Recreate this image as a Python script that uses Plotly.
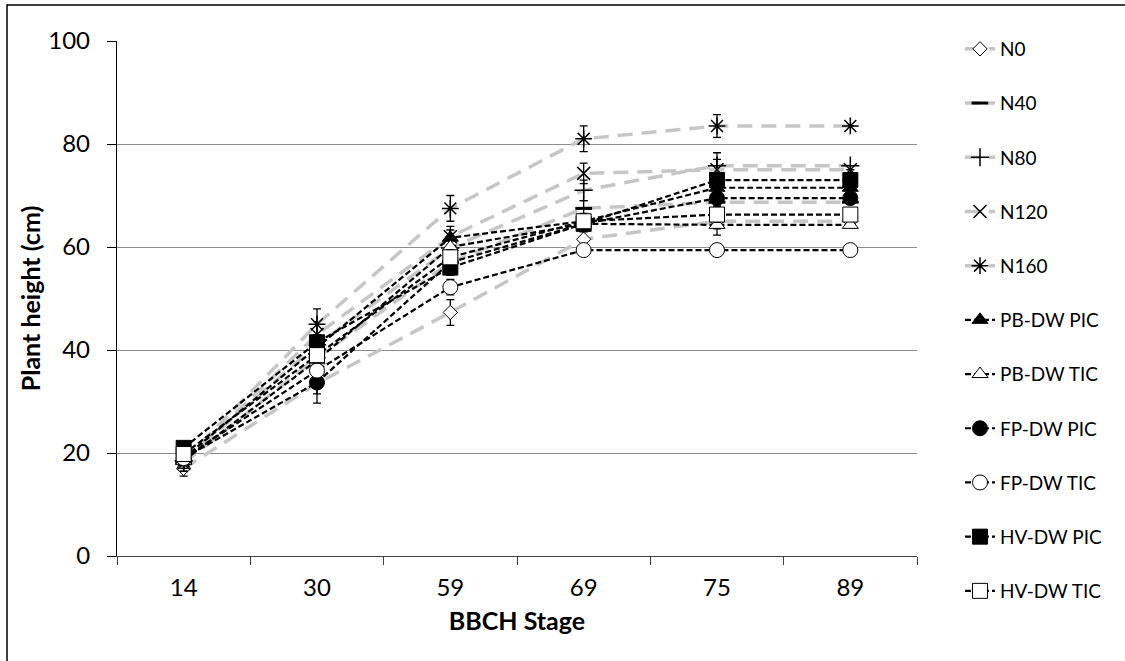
import plotly.graph_objects as go

stages = ["14", "30", "59", "69", "75", "89"]

n0 = [17.0, 33.5, 47.3, 61.5, 65.0, 65.0]
n40 = [18.0, 38.5, 57.0, 67.5, 68.7, 68.7]
n80 = [18.5, 41.0, 59.8, 71.0, 75.8, 75.8]
n120 = [18.0, 43.0, 62.0, 74.3, 75.0, 75.0]
n160 = [18.5, 45.0, 67.5, 81.0, 83.5, 83.5]
pb_pic = [19.0, 40.5, 61.8, 65.0, 71.5, 71.5]
pb_tic = [18.5, 38.0, 60.0, 64.5, 64.3, 64.3]
fp_pic = [19.0, 33.7, 57.0, 64.5, 69.5, 69.5]
fp_tic = [19.0, 36.0, 52.2, 59.4, 59.4, 59.4]
hv_pic = [21.0, 41.5, 56.0, 64.5, 73.0, 73.0]
hv_tic = [19.8, 39.0, 58.0, 65.0, 66.3, 66.3]

n0_err = [1.5, 2.0, 2.5, 1.5, 1.5, 0]
n40_err = [1.5, 2.0, 2.0, 1.5, 1.5, 0]
n80_err = [1.5, 2.0, 2.0, 2.0, 2.5, 0]
n120_err = [1.5, 2.5, 2.0, 2.0, 2.0, 0]
n160_err = [1.5, 3.0, 2.5, 2.5, 2.2, 0]
pb_pic_err = [1.0, 1.5, 1.5, 1.5, 1.5, 0]
pb_tic_err = [1.0, 1.5, 1.5, 1.5, 2.0, 0]
fp_pic_err = [1.0, 4.0, 1.5, 1.5, 1.5, 0]
fp_tic_err = [1.0, 1.5, 1.5, 1.0, 0, 0]
hv_pic_err = [1.0, 1.5, 1.5, 1.0, 1.0, 0]
hv_tic_err = [1.0, 1.5, 1.5, 1.0, 1.5, 0]

grey_series = [
    ("N0", n0, n0_err, "diamond", "white", 11),
    ("N40", n40, n40_err, "line-ew", "black", 12),
    ("N80", n80, n80_err, "cross-thin", "black", 13),
    ("N120", n120, n120_err, "x-thin", "black", 13),
    ("N160", n160, n160_err, "asterisk", "black", 14),
]
black_series = [
    ("PB-DW PIC", pb_pic, pb_pic_err, "triangle-up", "black", 14),
    ("PB-DW TIC", pb_tic, pb_tic_err, "triangle-up", "white", 14),
    ("FP-DW PIC", fp_pic, fp_pic_err, "circle", "black", 15),
    ("FP-DW TIC", fp_tic, fp_tic_err, "circle", "white", 15),
    ("HV-DW PIC", hv_pic, hv_pic_err, "square", "black", 15),
    ("HV-DW TIC", hv_tic, hv_tic_err, "square", "white", 15),
]

fig = go.Figure()

for name, vals, err, sym, fill, size in grey_series:
    mline = 1.5 if sym in ("cross-thin", "x-thin", "asterisk") else 1
    if sym == "line-ew":
        mline = 3
    fig.add_trace(go.Scatter(
        x=stages, y=vals, name=name, mode="lines+markers", legendgroup=name,
        line=dict(color="#c6c6c6", width=3.5, dash="15px,9px"),
        marker=dict(symbol=sym, size=size, color=fill,
                    line=dict(color="black", width=mline)),
        error_y=dict(type="data", array=err, visible=True, color="black",
                     thickness=1.3, width=4),
    ))

for name, vals, err, sym, fill, size in black_series:
    fig.add_trace(go.Scatter(
        x=stages, y=vals, name=name, mode="lines+markers", legendgroup=name,
        line=dict(color="black", width=2.2, dash="6px,3px"),
        marker=dict(symbol=sym, size=size, color=fill,
                    line=dict(color="black", width=1)),
        error_y=dict(type="data", array=err, visible=True, color="black",
                     thickness=1.3, width=4),
    ))

# outer chart frame (extends beyond visible page on right/bottom)
fig.add_shape(type="rect", xref="paper", yref="paper",
              x0=-0.1375, x1=1.3, y0=-0.25, y1=1.0699,
              line=dict(color="black", width=1.5), fillcolor="rgba(0,0,0,0)",
              layer="below")

# partially cropped title above the frame
fig.add_annotation(xref="paper", yref="paper", x=(396 - 117) / 800, y=(556 - 2) / 515,
                   xanchor="right", yanchor="bottom", showarrow=False,
                   text="Plant height (cm)",
                   font=dict(family="Lato, sans-serif", size=26, color="black"))

fig.update_layout(
    width=1125, height=661,
    margin=dict(l=117, r=208, t=41, b=105),
    paper_bgcolor="white", plot_bgcolor="white",
    font=dict(family="Lato, sans-serif", color="black"),
    showlegend=True,
    legend=dict(x=(960 - 117) / 800, y=(556 - 30) / 515, xanchor="left", yanchor="top",
                font=dict(size=19, color="black"), tracegroupgap=26.5,
                bgcolor="rgba(0,0,0,0)", itemwidth=30, maxheight=650),
    xaxis=dict(type="category", range=[-0.5, 5.5], tickson="boundaries",
               ticks="outside", ticklen=8, tickcolor="#404040", tickwidth=1.3,
               showline=True, linecolor="#404040", linewidth=1.3,
               showgrid=False, zeroline=False, ticklabelstandoff=10,
               tickfont=dict(size=24, color="black"),
               title=dict(text="<b>BBCH Stage</b>", font=dict(size=25, color="black"), standoff=12)),
    yaxis=dict(range=[0, 100], dtick=20, ticks="outside", ticklen=9,
               tickcolor="black", tickwidth=1.3,
               showline=True, linecolor="black", linewidth=1.3,
               showgrid=True, gridcolor="#8c8c8c", gridwidth=1,
               zeroline=False, ticklabelstandoff=12,
               tickfont=dict(size=24, color="black"),
               title=dict(text="<b>Plant height (cm)</b>", font=dict(size=25, color="black"), standoff=0)),
)

fig.write_html("out.html")
